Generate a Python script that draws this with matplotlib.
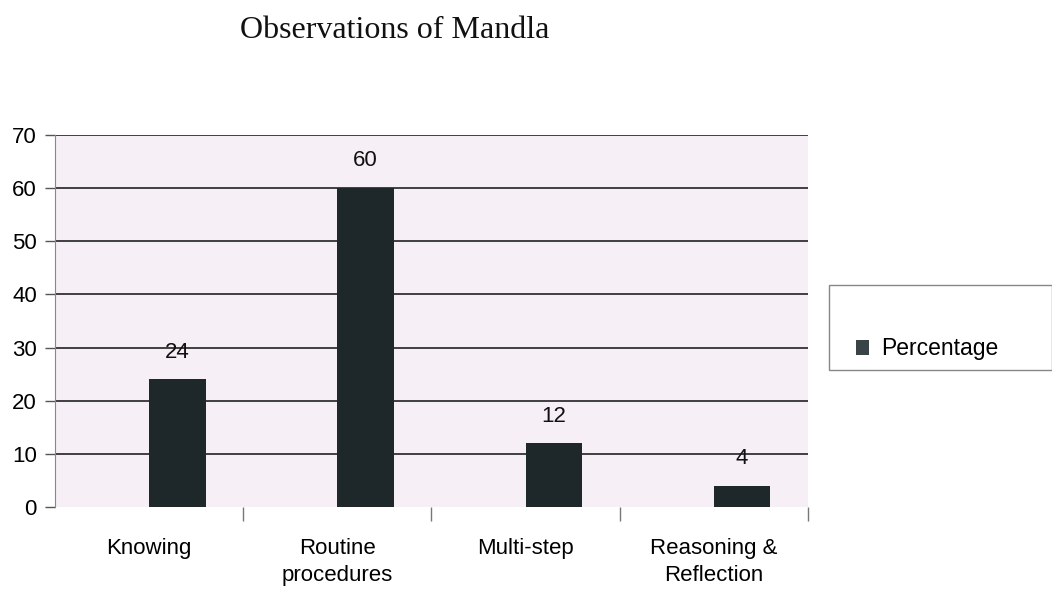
import matplotlib
matplotlib.use("Agg")
import matplotlib.pyplot as plt
from matplotlib.patches import Patch, Rectangle

categories = ["Knowing", "Routine\nprocedures", "Multi-step", "Reasoning &\nReflection"]
values = [24, 60, 12, 4]
series_name = "Percentage"
title = "Observations of Mandla"
yticks = [0, 10, 20, 30, 40, 50, 60, 70]

bar_color = "#1e2729"
bg_color = "#f6eff6"

plt.rcParams["font.family"] = ["Liberation Sans", "DejaVu Sans"]

fig = plt.figure(figsize=(10.52, 5.90), dpi=100)
ax = fig.add_axes([0.0523, 0.1407, 0.7157, 0.6305])
ax.set_facecolor(bg_color)

x = list(range(len(categories)))
xb = [i + 0.15 for i in x]
bars = ax.bar(xb, values, width=0.30, color=bar_color, zorder=3)

for xi, v in zip(xb, values):
    ax.annotate(str(v), (xi, v), xytext=(0, 12), textcoords="offset points",
                ha="center", va="bottom", fontsize=16, color="#111111")

ax.set_xlim(-0.5, 3.5)
ax.set_ylim(0, 70)
ax.set_yticks(yticks)
ax.tick_params(axis="y", labelsize=16, length=7, width=1, color="#555555", pad=6)
ax.set_xticks(x)
ax.set_xticklabels(categories, fontsize=16, linespacing=1.4)
ax.tick_params(axis="x", length=0, pad=22)
ax.set_xticks([0.5, 1.5, 2.5, 3.5], minor=True)
ax.tick_params(axis="x", which="minor", length=10, width=1, color="#777777", direction="out")

ax.grid(axis="y", color="#222222", linewidth=1.2, zorder=1)
ax.get_ygridlines()[0].set_visible(False)
ax.set_axisbelow(True)
for s in ["top", "right", "bottom"]:
    ax.spines[s].set_visible(False)
ax.spines["left"].set_color("#888888")
ax.spines["left"].set_linewidth(0.8)

fig.text(0.375, 0.948, title, ha="center", va="center", fontsize=23,
         family=["Liberation Serif", "DejaVu Serif"], color="#111111")

# legend box
fig.patches.append(Rectangle((829 / 1052, 1 - 370 / 590), (1052 - 829) / 1052, 85 / 590,
                             transform=fig.transFigure, facecolor="white",
                             edgecolor="#888888", linewidth=1.0))
leg = fig.legend([Patch(facecolor="#3a4446")], [series_name], loc="center left",
                 bbox_to_anchor=(835 / 1052, 1 - 349 / 590), frameon=False,
                 fontsize=16.5, handlelength=0.6, handleheight=0.6, handletextpad=0.5)

fig.savefig("out.png", dpi=100, facecolor="white")
